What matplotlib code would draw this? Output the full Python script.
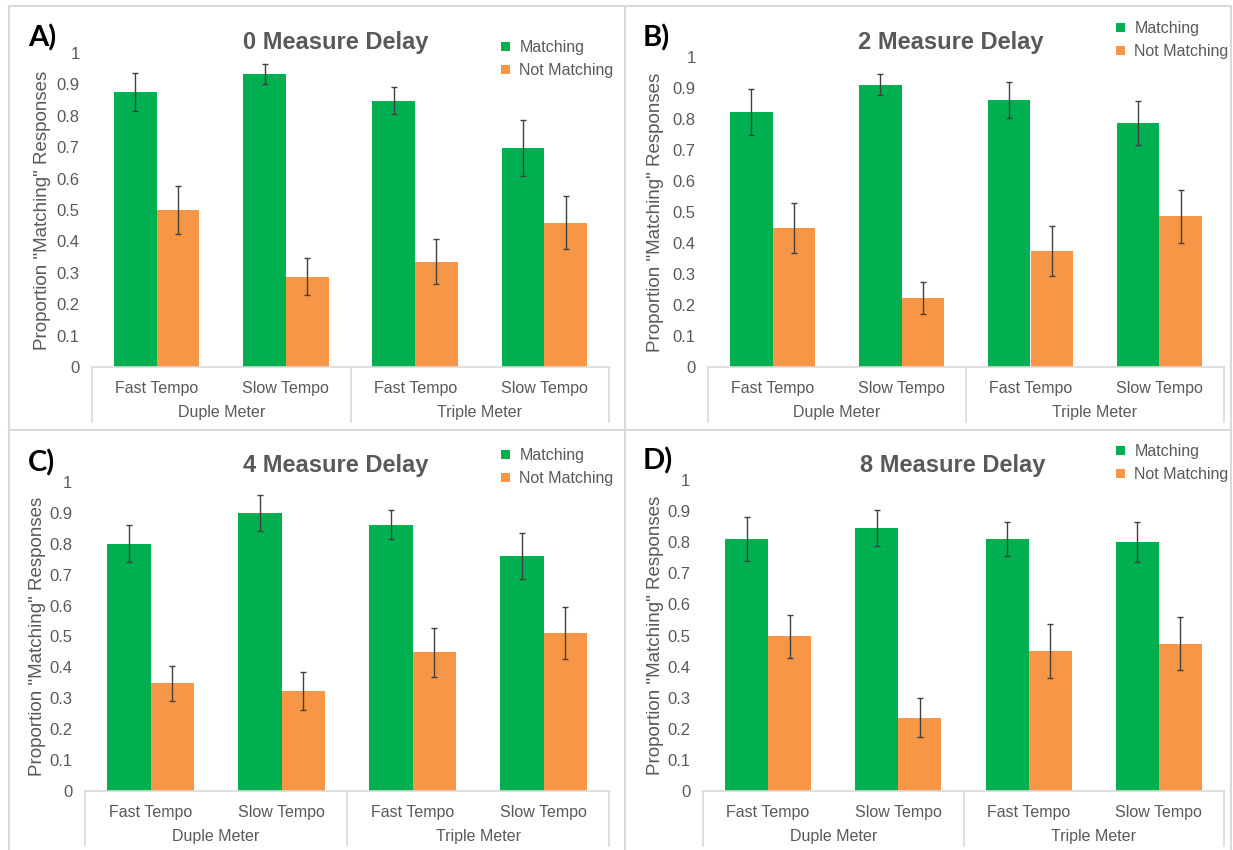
import matplotlib
matplotlib.use('Agg')
import matplotlib.pyplot as plt
from matplotlib.transforms import blended_transform_factory
from matplotlib.lines import Line2D
import numpy as np

# -----------------------------------------------------------------------------
# Data: proportion of "matching" responses per condition, with error bars
# -----------------------------------------------------------------------------
tempo_labels = ['Fast Tempo', 'Slow Tempo', 'Fast Tempo', 'Slow Tempo']
meter_labels = ['Duple Meter', 'Triple Meter']
series_names = ['Matching', 'Not Matching']
panel_letters = ['A)', 'B)', 'C)', 'D)']
delay_titles = ['0 Measure Delay', '2 Measure Delay', '4 Measure Delay', '8 Measure Delay']

matching_0 = [0.875, 0.933, 0.848, 0.698]
matching_err_0 = [0.060, 0.033, 0.043, 0.090]
not_matching_0 = [0.500, 0.288, 0.335, 0.460]
not_matching_err_0 = [0.077, 0.060, 0.072, 0.083]

matching_2 = [0.823, 0.911, 0.861, 0.787]
matching_err_2 = [0.073, 0.034, 0.059, 0.070]
not_matching_2 = [0.449, 0.223, 0.375, 0.486]
not_matching_err_2 = [0.081, 0.052, 0.081, 0.086]

matching_4 = [0.800, 0.900, 0.862, 0.761]
matching_err_4 = [0.060, 0.057, 0.046, 0.075]
not_matching_4 = [0.348, 0.323, 0.449, 0.511]
not_matching_err_4 = [0.056, 0.061, 0.079, 0.085]

matching_8 = [0.811, 0.847, 0.811, 0.800]
matching_err_8 = [0.070, 0.058, 0.055, 0.064]
not_matching_8 = [0.497, 0.236, 0.449, 0.474]
not_matching_err_8 = [0.069, 0.062, 0.087, 0.085]

y_ticks = [0, 0.1, 0.2, 0.3, 0.4, 0.5, 0.6, 0.7, 0.8, 0.9, 1]
y_tick_labels = ['0', '0.1', '0.2', '0.3', '0.4', '0.5', '0.6', '0.7', '0.8', '0.9', '1']

# -----------------------------------------------------------------------------
# Styling
# -----------------------------------------------------------------------------
GREEN = '#00B050'
ORANGE = '#F79646'
TEXT = '#595959'
AXIS_LINE = '#D9D9D9'
ERR = '#404040'
BORDER = '#D9D9D9'

W, H = 1233, 850
plt.rcParams['font.family'] = ['Liberation Sans', 'DejaVu Sans']

fig = plt.figure(figsize=(W / 100, H / 100), dpi=100)


def px_rect(left, right, top, bottom):
    """Convert pixel box (from top-left) to a figure-fraction axes rect."""
    return [left / W, 1 - bottom / H, (right - left) / W, (bottom - top) / H]


def rect_mid_y(rect):
    return (1 - rect[1] - rect[3] / 2) * H


def draw_panel(rect, match, match_err, not_match, not_match_err,
               title, letter, title_xy, letter_xy, legend_xy, ylabel_x):
    ax = fig.add_axes(rect)
    x = np.arange(len(tempo_labels))
    width = 0.33

    b1 = ax.bar(x - width / 2, match, width, color=GREEN, label=series_names[0])
    b2 = ax.bar(x + width / 2, not_match, width, color=ORANGE, label=series_names[1])
    ax.errorbar(x - width / 2, match, yerr=match_err, fmt='none',
                ecolor=ERR, elinewidth=1.0, capsize=2.5, capthick=1.0)
    ax.errorbar(x + width / 2, not_match, yerr=not_match_err, fmt='none',
                ecolor=ERR, elinewidth=1.0, capsize=2.5, capthick=1.0)

    ax.set_xlim(-0.5, 3.5)
    ax.set_ylim(0, 1)
    ax.set_yticks(y_ticks)
    ax.set_yticklabels(y_tick_labels)
    ax.set_xticks(x)
    ax.set_xticklabels(tempo_labels)
    ax.tick_params(axis='y', length=0, pad=9, labelsize=12, labelcolor=TEXT)
    ax.tick_params(axis='x', length=0, pad=10, labelsize=11.5, labelcolor=TEXT)

    for side in ['top', 'right', 'left']:
        ax.spines[side].set_visible(False)
    ax.spines['bottom'].set_color(AXIS_LINE)
    ax.spines['bottom'].set_linewidth(1.2)

    # second level of the category axis (meter groups)
    trans = blended_transform_factory(ax.transData, ax.transAxes)
    ax_h = rect[3] * H
    drop = 55 / ax_h
    for xb in [-0.5, 1.5, 3.5]:
        ax.add_line(Line2D([xb, xb], [0, -drop], transform=trans,
                           color=AXIS_LINE, lw=1.2, clip_on=False))
    for i, name in enumerate(meter_labels):
        ax.text(2 * i + 0.5, -46 / ax_h, name, transform=trans,
                ha='center', va='center', fontsize=11.5, color=TEXT)

    fig.text(ylabel_x / W, 1 - rect_mid_y(rect) / H,
             'Proportion "Matching" Responses', rotation=90,
             ha='center', va='center', fontsize=13.5, color=TEXT)

    fig.text(title_xy[0] / W, 1 - title_xy[1] / H, title,
             ha='center', va='center', fontsize=17, fontweight='bold', color=TEXT)
    fig.text(letter_xy[0] / W, 1 - letter_xy[1] / H, letter,
             ha='left', va='center', fontsize=21, fontweight='bold',
             color='black', family=['Lato', 'DejaVu Sans'])

    ax.legend(handles=[b1, b2], loc='center left',
              bbox_to_anchor=(legend_xy[0] / W, 1 - legend_xy[1] / H),
              bbox_transform=fig.transFigure, frameon=False,
              fontsize=11.5, labelcolor=TEXT, handlelength=0.55,
              handleheight=0.55, handletextpad=0.6, labelspacing=0.5,
              borderpad=0, borderaxespad=0)
    return ax


# panel frames
for xv in [9, 625, 1231]:
    fig.add_artist(Line2D([xv / W, xv / W], [0, 1 - 6 / H],
                          transform=fig.transFigure, color=BORDER, lw=1.5))
for yv in [6, 430]:
    fig.add_artist(Line2D([9 / W, 1231 / W], [1 - yv / H, 1 - yv / H],
                          transform=fig.transFigure, color=BORDER, lw=1.5))

draw_panel(px_rect(92, 609, 53, 367), matching_0, matching_err_0,
           not_matching_0, not_matching_err_0, delay_titles[0], panel_letters[0],
           (336, 42), (28, 38), (501, 59), 43)
draw_panel(px_rect(708, 1224, 57, 367), matching_2, matching_err_2,
           not_matching_2, not_matching_err_2, delay_titles[1], panel_letters[1],
           (951, 42), (643, 38), (1116, 40), 656)
draw_panel(px_rect(85, 609, 482, 791), matching_4, matching_err_4,
           not_matching_4, not_matching_err_4, delay_titles[2], panel_letters[2],
           (336, 465), (28, 463), (501, 467), 38)
draw_panel(px_rect(703, 1224, 480, 791), matching_8, matching_err_8,
           not_matching_8, not_matching_err_8, delay_titles[3], panel_letters[3],
           (953, 465), (643, 461), (1116, 463), 655)

fig.savefig('out.png', dpi=100, facecolor='white')
plt.close(fig)
